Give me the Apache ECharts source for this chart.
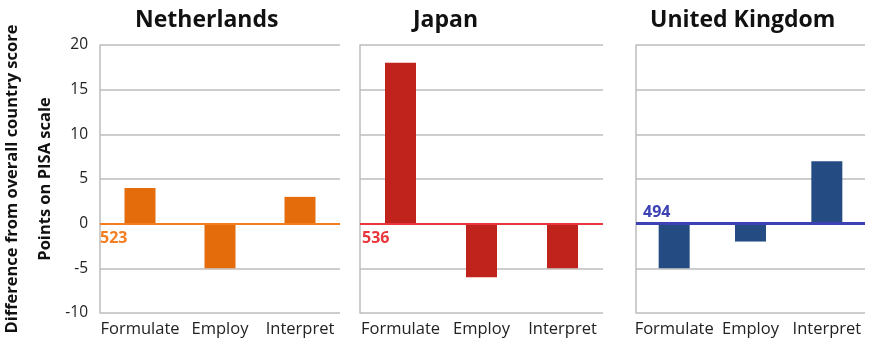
<!DOCTYPE html>
<html>
<head>
<meta charset="utf-8">
<script src="https://cdn.jsdelivr.net/npm/echarts@6/dist/echarts.min.js"></script>
<style>
  html, body { margin: 0; padding: 0; background: #fff; }
  #chart { width: 877px; height: 354px; }
</style>
</head>
<body>
<div id="chart"></div>
<script>
var categories = ['Formulate', 'Employ', 'Interpret']
var countries = ['Netherlands', 'Japan', 'United Kingdom']
var netherlands = [4, -5, 3]
var japan = [18, -6, -5]
var unitedKingdom = [-5, -2, 7]
var overallScores = ['523', '536', '494']

var panelData = [netherlands, japan, unitedKingdom]
var barColors = ['#e46c0a', '#c0231b', '#254c82']
var lineColors = ['#f47d20', '#e8363c', '#3c42b4']
var labelPos = ['insideStartBottom', 'insideStartBottom', 'insideStartTop']
var labelDist = [[0, 7], [2, 7], [7, 3]]
var lineWidths = [2, 2, 3]

var grids = [
  { left: 100, top: 45, width: 240, height: 268, outerBoundsMode: 'none' },
  { left: 360, top: 45, width: 243, height: 268, outerBoundsMode: 'none' },
  { left: 636, top: 45, width: 229, height: 268, outerBoundsMode: 'none' }
]
var titleLeft = [130, 408, 645]

var font = '"Open Sans", sans-serif'

var myChart = echarts.init(document.getElementById('chart'))

var xAxes = []
var yAxes = []
var series = []
var titles = []
for (var i = 0; i < 3; i++) {
  titles.push({
    text: countries[i],
    left: titleLeft[i],
    top: 4,
    textStyle: { fontFamily: font, fontSize: 23, fontWeight: 'bold', color: '#111' }
  })
  xAxes.push({
    type: 'category',
    gridIndex: i,
    data: categories,
    position: 'bottom',
    axisLine: { show: false, onZero: false },
    axisTick: { show: false },
    axisLabel: { interval: 0, hideOverlap: false, fontFamily: font, fontSize: 16.5, color: '#222', margin: 8 }
  })
  yAxes.push({
    type: 'value',
    gridIndex: i,
    min: -10,
    max: 20,
    interval: 5,
    axisLine: { show: true, lineStyle: { color: '#bdbdbd', width: 1.5 } },
    axisTick: { show: false },
    splitLine: { lineStyle: { color: '#bdbdbd', width: 1.5 } },
    axisLabel: { show: i === 0, fontFamily: font, fontSize: 15.5, color: '#222', margin: 12 },
    name: i === 0 ? 'Difference from overall country score\nPoints on PISA scale' : '',
    nameLocation: 'middle',
    nameRotate: 90,
    nameGap: 38,
    nameTextStyle: { fontFamily: font, fontSize: 16.5, fontWeight: 'bold', color: '#111', lineHeight: 33 }
  })
  series.push({
    type: 'bar',
    xAxisIndex: i,
    yAxisIndex: i,
    data: panelData[i],
    barWidth: 31,
    itemStyle: { color: barColors[i] },
    markLine: {
      silent: true,
      symbol: 'none',
      lineStyle: { color: lineColors[i], width: lineWidths[i], type: 'solid' },
      label: {
        position: labelPos[i],
        formatter: overallScores[i],
        fontFamily: font,
        fontSize: 16,
        fontWeight: 'bold',
        color: lineColors[i],
        distance: labelDist[i]
      },
      data: [{ yAxis: 0 }]
    }
  })
}

var option = {
  backgroundColor: '#fff',
  animation: false,
  title: titles,
  grid: grids,
  xAxis: xAxes,
  yAxis: yAxes,
  series: series
}

myChart.setOption(option, true)
window.addEventListener('resize', () => {
  myChart.resize()
})
</script>
</body>
</html>
